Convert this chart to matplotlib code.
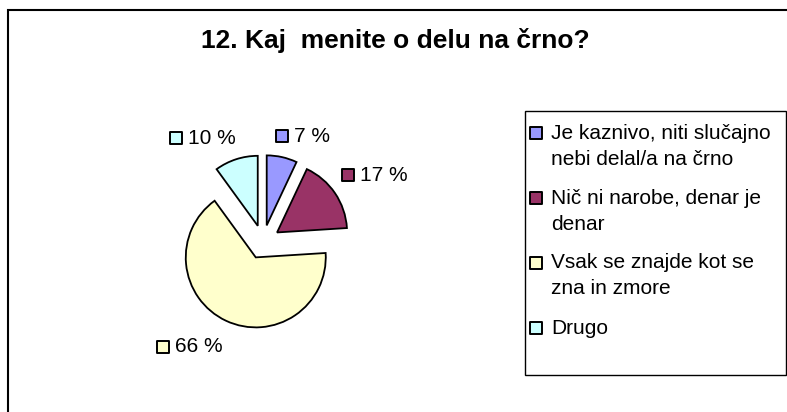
import matplotlib.pyplot as plt
from matplotlib.patches import Rectangle

W, H = 787, 412

title = "12. Kaj  menite o delu na črno?"
categories = [
    "Je kaznivo, niti slučajno\nnebi delal/a na črno",
    "Nič ni narobe, denar je\ndenar",
    "Vsak se znajde kot se\nzna in zmore",
    "Drugo",
]
values = [7, 17, 66, 10]
value_labels = ["7 %", "17 %", "66 %", "10 %"]
colors = ["#9999FF", "#993366", "#FFFFCC", "#CCFFFF"]

# label anchor positions (pixels, image coords) for the percent labels
label_pos = [(282, 136), (348, 175), (163, 347), (176, 138)]

plt.rcParams["font.family"] = ["Liberation Sans", "DejaVu Sans"]

fig = plt.figure(figsize=(W / 100, H / 100), dpi=100)
ax = fig.add_axes([0, 0, 1, 1])


def Y(y):
    return H - y


# explode is in data units here (pixels)
ax.pie(values, colors=colors, startangle=90, counterclock=False,
       explode=[17] * 4, radius=70, center=(263, Y(242)), frame=True,
       wedgeprops=dict(edgecolor="black", linewidth=1.3))

# outer chart border
ax.add_patch(Rectangle((7.5, Y(H + 20)), W + 20, H + 20 - 9.5, fill=False,
                       edgecolor="black", linewidth=1.5))

ax.text(395, Y(40), title, ha="center", va="center", fontsize=19,
        fontweight="bold")

for (x, y), lab, c in zip(label_pos, value_labels, colors):
    ax.scatter([x], [Y(y)], marker="s", s=68, color=c, edgecolor="black",
               linewidth=1.4, zorder=5)
    ax.text(x + 12, Y(y), lab, ha="left", va="center", fontsize=15)

# legend
ax.add_patch(Rectangle((525, Y(375)), 261, 264, fill=False,
                       edgecolor="black", linewidth=1.0))
for k, (cat, c) in enumerate(zip(categories, colors)):
    y0 = 133 + 65 * k
    ax.scatter([536], [Y(y0)], marker="s", s=68, color=c, edgecolor="black",
               linewidth=1.4, zorder=5)
    for i, line in enumerate(cat.split("\n")):
        ax.text(551, Y(y0 + 26 * i), line, ha="left", va="center",
                fontsize=15)

ax.set_xlim(0, W)
ax.set_ylim(0, H)
ax.set_aspect("auto")
ax.axis("off")

fig.savefig("out.png", dpi=100)
